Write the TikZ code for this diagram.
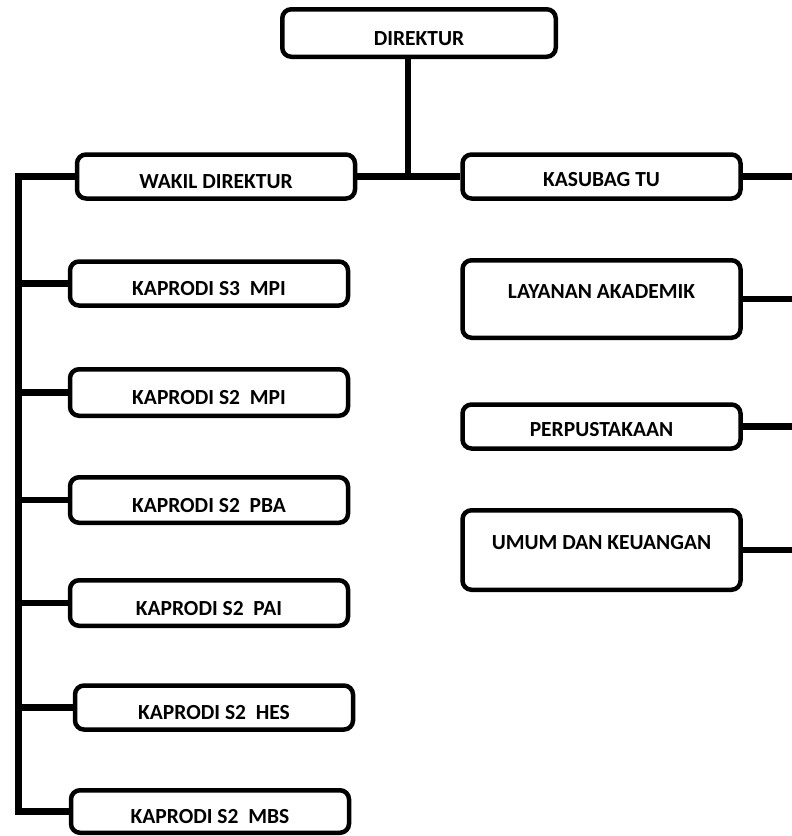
\documentclass[tikz,border=0pt]{standalone}
\usepackage{fontspec}
\setmainfont{Carlito}
\usepackage{tikz}

\begin{document}
\begin{tikzpicture}[x=1pt, y=-1pt,
    box/.style = {draw, line width=4.5pt, rounded corners=9pt, inner sep=3pt,
        minimum width=278pt, minimum height=44pt,
        font=\fontsize{21.5}{24}\selectfont\bfseries},
    low text/.style = {text height=24pt, text depth=0pt},
    mid text/.style = {text height=20pt, text depth=0pt},
    high text/.style = {text height=4pt, text depth=6pt},
    link/.style = {draw, line width=6.5pt}]
    \useasboundingbox (0,0) rectangle (792,836);
    % top
    \node [box,low text,minimum height=47.5pt,minimum width=273.5pt] (direktur) at (419,33) {DIREKTUR};
    \node [box,low text] (wakil) at (216,176.5) {WAKIL DIREKTUR};
    \node [box,mid text] (kasubag) at (601.5,176.5) {KASUBAG TU};
    % left column
    \node [box,low text] (s3mpi) at (209,283.5) {KAPRODI S3 \ MPI};
    \node [box,low text,minimum height=46.5pt] (s2mpi) at (209,392.5) {KAPRODI S2 \ MPI};
    \node [box,low text,minimum height=45.5pt] (s2pba) at (209,500) {KAPRODI S2 \ PBA};
    \node [box,low text,minimum height=45.5pt] (s2pai) at (209,603) {KAPRODI S2 \ PAI};
    \node [box,low text] (s2hes) at (214,707.5) {KAPRODI S2 \ HES};
    \node [box,low text,minimum height=42.5pt] (s2mbs) at (210,811.5) {KAPRODI S2 \ MBS};
    % right column
    \node [box,high text,minimum height=77.5pt] (layanan) at (601.5,299) {LAYANAN AKADEMIK};
    \node [box,mid text] (perpus) at (601.5,426.5) {PERPUSTAKAAN};
    \node [box,high text,minimum height=79.5pt] (umum) at (601.5,550) {UMUM DAN KEUANGAN};

    \coordinate (bus) at (18.5,176.5);
    \coordinate (edge) at (792,0);

    \draw [link] ([xshift=-11pt]direktur.south) -- ([xshift=-11pt]direktur.south |- wakil.east);
    \draw [link] (wakil.east) -- (kasubag.west);
    \draw [link] (wakil.west) -- (bus) |- (s2mbs.west);
    \draw [link] (s3mpi.west) -- (s3mpi.west -| bus);
    \draw [link] (s2mpi.west) -- (s2mpi.west -| bus);
    \draw [link] (s2pba.west) -- (s2pba.west -| bus);
    \draw [link] (s2pai.west) -- (s2pai.west -| bus);
    \draw [link] (s2hes.west) -- (s2hes.west -| bus);
    \draw [link] (kasubag.east) -- (kasubag.east -| edge);
    \draw [link] (layanan.east) -- (layanan.east -| edge);
    \draw [link] (perpus.east) -- (perpus.east -| edge);
    \draw [link] (umum.east) -- (umum.east -| edge);
\end{tikzpicture}
\end{document}
